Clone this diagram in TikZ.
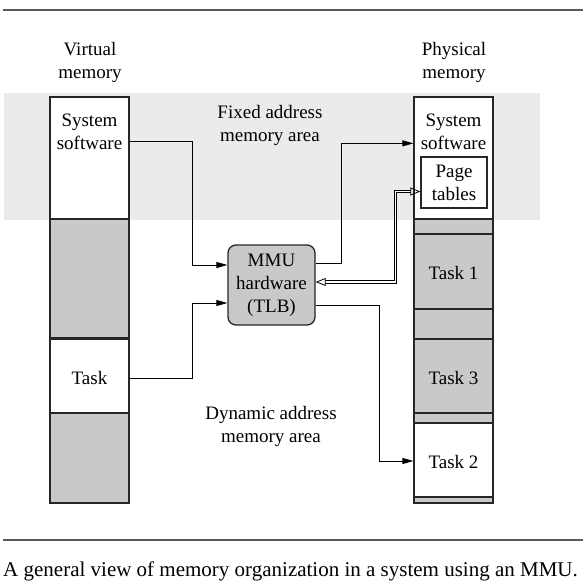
\documentclass[tikz,border=0pt]{standalone}
\usepackage{fontspec}
\setmainfont{Liberation Serif}
\usetikzlibrary{arrows.meta}

\begin{document}
\begin{tikzpicture}[x=1pt,y=-1pt,
    seg/.style={draw=black!85, line width=1.3pt, minimum width=79pt, inner sep=0pt},
    blank/.style={seg, fill=white},
    shade/.style={seg, fill=black!21},
    lbl/.style={align=center, inner sep=0pt, font=\fontsize{19}{23}\selectfont},
    conn/.style={line width=0.8pt, -{Triangle[length=11pt,width=6pt]}},
    dbl/.style={double, double distance=1.6pt, line width=0.8pt,
        {Triangle[open,length=10pt,width=8pt]}-{Triangle[open,length=10pt,width=8pt]}}]
    \useasboundingbox (0,0) rectangle (583,583);

    % Rules
    \draw[line width=1.4pt, black!65] (3,10) -- (583,10);
    \draw[line width=1.4pt, black!65] (3,540) -- (583,540);

    % Fixed area band
    \fill[black!8] (4,93) rectangle (540,220);

    % Headings
    \node[lbl] (vhead) at (90,62.5) {Virtual\\memory};
    \node[lbl] (phead) at (454,62.5) {Physical\\memory};
    \node[lbl] (fixed) at (270,125.5) {Fixed address\\memory area};
    \node[lbl] (dyn) at (271,426.5) {Dynamic address\\memory area};

    % Virtual memory
    \node[blank, minimum height=122pt] (vss) at (89.5,158) {};
    \node[shade, minimum height=119pt] (vg1) at (89.5,278.5) {};
    \node[blank, minimum height=74pt] (vtask) at (89.5,376) {};
    \node[shade, minimum height=90pt] (vg2) at (89.5,458) {};
    \node[lbl] (vsstxt) at (89.5,131.5) {System\\software};
    \node[lbl, yshift=-2pt] (vtasktxt) at (vtask) {Task};

    % Physical memory
    \node[blank, minimum height=122pt] (pss) at (453.5,158) {};
    \node[shade, minimum height=15pt] (pg1) at (453.5,226.5) {};
    \node[shade, minimum height=75pt] (ptask1) at (453.5,271.5) {};
    \node[shade, minimum height=30pt] (pg2) at (453.5,324) {};
    \node[shade, minimum height=74pt] (ptask3) at (453.5,376) {};
    \node[shade, minimum height=10pt] (pg3) at (453.5,418) {};
    \node[blank, minimum height=74pt] (ptask2) at (453.5,460) {};
    \node[shade, minimum height=6pt] (pg4) at (453.5,500) {};
    \node[lbl] (psstxt) at (453.5,131.5) {System\\software};
    \node[draw=black!85, line width=1.3pt, fill=white, minimum width=66pt, minimum height=51pt,
        lbl] (ptab) at (454,182.5) {Page\\tables};
    \node[lbl, yshift=-1pt] (ptask1txt) at (ptask1) {Task 1};
    \node[lbl, yshift=-2pt] (ptask3txt) at (ptask3) {Task 3};
    \node[lbl, yshift=-2pt] (ptask2txt) at (ptask2) {Task 2};

    % MMU
    \node[draw=black!85, line width=1.3pt, fill=black!21, rounded corners=8pt,
        minimum width=87pt, minimum height=80pt, lbl] (mmu) at (271.5,285) {MMU\\hardware\\(TLB)};

    % Connectors
    \draw[conn] ([yshift=-45pt]vss.north east) -- ++(63,0) |- ([yshift=20pt]mmu.west);
    \draw[conn] ([yshift=-2pt]vtask.east) -- ++(63,0) |- ([yshift=-18pt]mmu.west);
    \draw[conn] ([yshift=22pt]mmu.east) -- ++(26,0) |- ([yshift=-47pt]pss.north west);
    \draw[conn] ([yshift=-20pt]mmu.east) -- ++(64,0) |- ([yshift=-1pt]ptask2.west);
    \draw[dbl] ([yshift=3pt]mmu.east) -- ++(80,0) |- ([yshift=-9pt]ptab.west);

    % Caption
    \node[anchor=west, inner sep=0pt, font=\fontsize{21}{25}\selectfont] (cap) at (3,571)
        {A general view of memory organization in a system using an MMU.};
\end{tikzpicture}
\end{document}
